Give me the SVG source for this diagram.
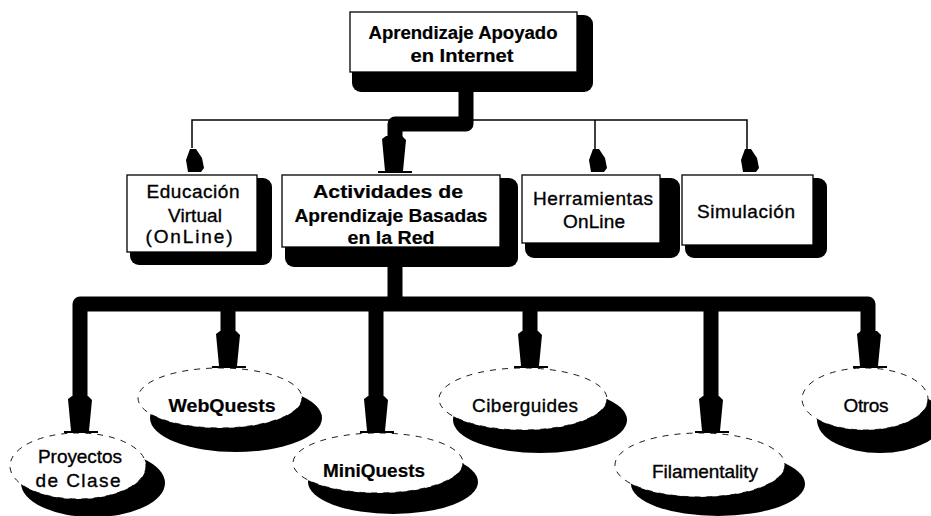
<svg xmlns="http://www.w3.org/2000/svg" xmlns:xlink="http://www.w3.org/1999/xlink" width="931" height="516" viewBox="0 0 931 516">
<style>
.bg{fill:#fff}
.sh{fill:#000}
.box{fill:#fff;stroke:#000;stroke-width:1.3}
.ell{fill:#fff;stroke:#000;stroke-width:0.9;stroke-dasharray:6 6}
.t{font-family:"Liberation Sans",Arial,sans-serif;font-size:19px;text-anchor:middle;fill:#000;stroke:#000;stroke-width:0.35}
.b{font-weight:bold;font-size:18px;stroke-width:0.2}
.thick{fill:none;stroke:#000;stroke-width:15;stroke-linejoin:round}
.thin{fill:none;stroke:#000;stroke-width:1.5}
.ah{fill:#000}
</style>
<defs>
<path id="bigArrow" d="M-8,-37 L-12,-34 L-9,-2 L9,-2 L12,-33 L8,-37 Z M-16,-2 H18 V0 H-16 Z"/>
<path id="smallArrow" d="M-3,-24 L3,-24 L9,-15 L11,-5 L8,-1 L-5,-1 L-7,-13 Z"/>
</defs>
<rect class="bg" x="0" y="0" width="931" height="516"/>

<g id="connectors">
  <path class="thin" d="M192,148 V120 H747 V150 M595,120 V150"/>
  <use class="ah" xlink:href="#smallArrow" x="193" y="173"/>
  <use class="ah" xlink:href="#smallArrow" x="596" y="173"/>
  <use class="ah" xlink:href="#smallArrow" x="748" y="173"/>
  <path class="thick" d="M466,85 V124 H395 V140"/>
  <use class="ah" xlink:href="#bigArrow" x="394" y="173"/>
  <path class="thick" d="M395,262 V304 M80,400 V304 H868 V335 M228,304 V335 M376,304 V400 M530,304 V335 M711,304 V400"/>
  <use class="ah" xlink:href="#bigArrow" x="80" y="433"/>
  <use class="ah" xlink:href="#bigArrow" x="228" y="368"/>
  <use class="ah" xlink:href="#bigArrow" x="376" y="433"/>
  <use class="ah" xlink:href="#bigArrow" x="530" y="368"/>
  <use class="ah" xlink:href="#bigArrow" x="711" y="433"/>
  <use class="ah" xlink:href="#bigArrow" x="869" y="368"/>
</g>

<g id="node-root">
  <rect class="sh" x="352" y="15" width="241" height="77" rx="9"/>
  <rect class="box" x="350" y="12" width="227" height="60"/>
  <text class="t b" x="463" y="39" textLength="189" lengthAdjust="spacingAndGlyphs">Aprendizaje Apoyado</text>
  <text class="t b" x="462" y="62" textLength="103" lengthAdjust="spacingAndGlyphs">en Internet</text>
</g>

<g id="node-educacion">
  <rect class="sh" x="130" y="178" width="142" height="87" rx="9"/>
  <rect class="box" x="127" y="175" width="130" height="77"/>
  <text class="t" x="193" y="198" textLength="93" lengthAdjust="spacing">Educación</text>
  <text class="t" x="195" y="222" textLength="54" lengthAdjust="spacing">Virtual</text>
  <text class="t" x="189" y="243" textLength="87" lengthAdjust="spacing">(OnLine)</text>
</g>

<g id="node-actividades">
  <rect class="sh" x="285" y="178" width="233" height="89" rx="9"/>
  <rect class="box" x="282" y="175" width="218" height="72"/>
  <text class="t b" x="388" y="198" textLength="150" lengthAdjust="spacingAndGlyphs">Actividades de</text>
  <text class="t b" x="391" y="222" textLength="193" lengthAdjust="spacingAndGlyphs">Aprendizaje Basadas</text>
  <text class="t b" x="391" y="244" textLength="87" lengthAdjust="spacingAndGlyphs">en la Red</text>
</g>

<g id="node-herramientas">
  <rect class="sh" x="525" y="178" width="155" height="80" rx="9"/>
  <rect class="box" x="522" y="175" width="138" height="68"/>
  <text class="t" x="593" y="205" textLength="120" lengthAdjust="spacing">Herramientas</text>
  <text class="t" x="594" y="228" textLength="62" lengthAdjust="spacing">OnLine</text>
</g>

<g id="node-simulacion">
  <rect class="sh" x="685" y="178" width="142" height="80" rx="9"/>
  <rect class="box" x="682" y="175" width="131" height="70"/>
  <text class="t" x="746" y="218" textLength="98" lengthAdjust="spacing">Simulación</text>
</g>

<g id="node-proyectos">
  <ellipse class="sh" cx="93" cy="483" rx="72" ry="34"/>
  <ellipse class="ell" cx="78" cy="466" rx="68" ry="33"/>
  <text class="t" x="80" y="463" textLength="84" lengthAdjust="spacing">Proyectos</text>
  <text class="t" x="78" y="487" textLength="85" lengthAdjust="spacing">de Clase</text>
</g>

<g id="node-webquests">
  <ellipse class="sh" cx="236" cy="418" rx="86" ry="34"/>
  <ellipse class="ell" cx="220" cy="398" rx="82" ry="30"/>
  <text class="t b" x="222" y="412" textLength="107" lengthAdjust="spacingAndGlyphs">WebQuests</text>
</g>

<g id="node-miniquests">
  <ellipse class="sh" cx="393" cy="482" rx="85" ry="32"/>
  <ellipse class="ell" cx="378" cy="463" rx="85" ry="30"/>
  <text class="t b" x="374" y="477" textLength="102" lengthAdjust="spacingAndGlyphs">MiniQuests</text>
</g>

<g id="node-ciberguides">
  <ellipse class="sh" cx="540" cy="420" rx="87" ry="33"/>
  <ellipse class="ell" cx="523" cy="399" rx="84" ry="31"/>
  <text class="t" x="525" y="412" textLength="106" lengthAdjust="spacing">Ciberguides</text>
</g>

<g id="node-filamentality">
  <ellipse class="sh" cx="718" cy="484" rx="87" ry="32"/>
  <ellipse class="ell" cx="700" cy="465" rx="85" ry="32"/>
  <text class="t" x="705" y="478" textLength="106" lengthAdjust="spacing">Filamentality</text>
</g>

<g id="node-otros">
  <ellipse class="sh" cx="880" cy="420" rx="63" ry="33"/>
  <ellipse class="ell" cx="865" cy="399" rx="63" ry="31"/>
  <text class="t" x="866" y="412" textLength="45" lengthAdjust="spacing">Otros</text>
</g>
</svg>
